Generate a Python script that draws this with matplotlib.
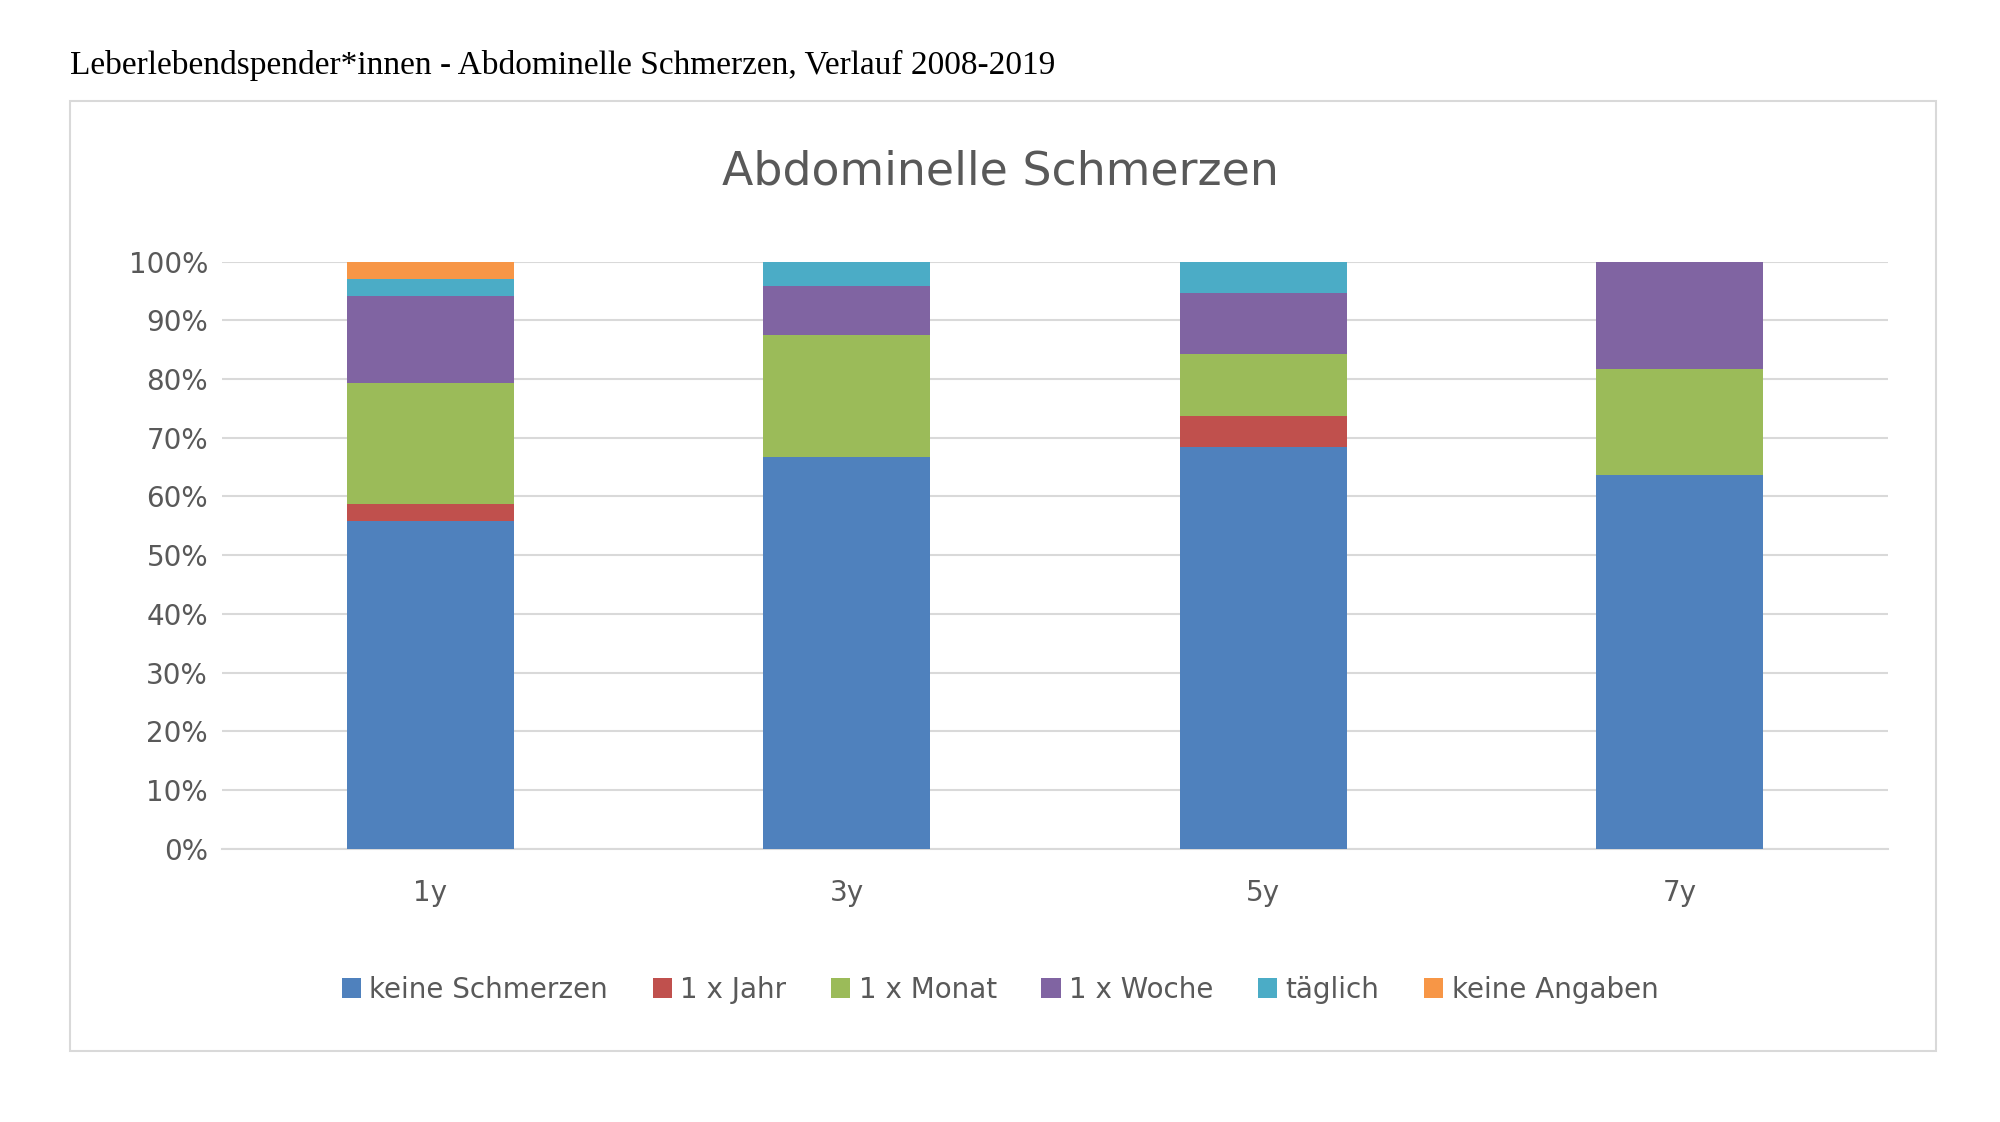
import matplotlib
matplotlib.use("Agg")
import matplotlib.pyplot as plt
from matplotlib.patches import Rectangle
import numpy as np

categories = ["1y", "3y", "5y", "7y"]
series_names = ["keine Schmerzen", "1 x Jahr", "1 x Monat", "1 x Woche", "täglich", "keine Angaben"]
keine_schmerzen = [55.9, 66.7, 68.4, 63.6]
jahr = [2.9, 0.0, 5.3, 0.0]
monat = [20.6, 20.8, 10.5, 18.2]
woche = [14.7, 8.3, 10.5, 18.2]
taeglich = [2.9, 4.2, 5.3, 0.0]
keine_angaben = [3.0, 0.0, 0.0, 0.0]
colors = ["#4F81BD", "#C0504D", "#9BBB59", "#8064A2", "#4BACC6", "#F79646"]

fig = plt.figure(figsize=(20, 11.22), dpi=100)
fig.patches.append(Rectangle((0.035, 0.063), 0.933, 0.847, transform=fig.transFigure,
                             fill=False, edgecolor="#D9D9D9", linewidth=1.5))
fig.text(0.035, 0.942, "Leberlebendspender*innen - Abdominelle Schmerzen, Verlauf 2008-2019",
         family="Liberation Serif", fontsize=24, va="center")
fig.text(0.5, 0.847, "Abdominelle Schmerzen", fontsize=33, color="#595959",
         ha="center", va="center")

ax = fig.add_axes([0.111, 0.2437, 0.833, 0.523])
x = np.arange(len(categories))
bottom = np.zeros(len(categories))
handles = []
for name, vals, c in zip(series_names,
                         [keine_schmerzen, jahr, monat, woche, taeglich, keine_angaben], colors):
    h = ax.bar(x, vals, 0.4, bottom=bottom, color=c, label=name, zorder=3)
    bottom += np.array(vals)
    handles.append(h)

ax.set_xlim(-0.5, 3.5)
ax.set_ylim(0, 100)
ax.set_yticks(range(0, 101, 10))
ax.set_yticklabels([f"{v}%" for v in range(0, 101, 10)])
ax.set_xticks(x)
ax.set_xticklabels(categories)
ax.grid(axis="y", color="#D9D9D9", linewidth=1.5, zorder=0)
for s in ["top", "right", "left"]:
    ax.spines[s].set_visible(False)
ax.spines["bottom"].set_color("#D9D9D9")
ax.spines["bottom"].set_linewidth(1.5)
ax.tick_params(length=0, labelsize=20, labelcolor="#595959")
ax.tick_params(axis="x", pad=22)
ax.tick_params(axis="y", pad=10)

fig.legend(handles=handles, loc="center", bbox_to_anchor=(0.5, 0.118), ncol=6,
           frameon=False, fontsize=20, labelcolor="#595959", handlelength=0.7,
           handleheight=0.7, handletextpad=0.3, columnspacing=1.6)

fig.savefig("out.png")
